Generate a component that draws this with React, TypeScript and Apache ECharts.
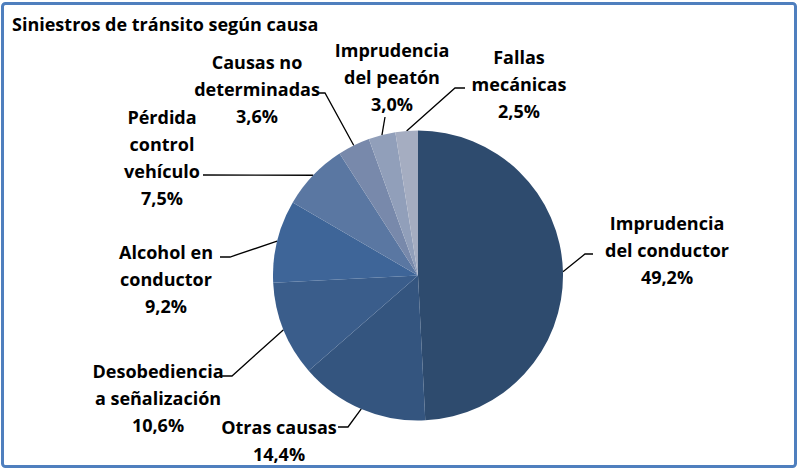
import React, { useEffect, useRef } from "react";
import * as echarts from "echarts";

const TITLE = "Siniestros de tránsito según causa";
const categories = [
  "Imprudencia\ndel conductor",
  "Otras causas",
  "Desobediencia\na señalización",
  "Alcohol en\nconductor",
  "Pérdida\ncontrol\nvehículo",
  "Causas no\ndeterminadas",
  "Imprudencia\ndel peatón",
  "Fallas\nmecánicas",
];
const values = [49.2, 14.4, 10.6, 9.2, 7.5, 3.6, 3.0, 2.5];
const colors = ["#2e4b6e", "#34557f", "#3a5d8b", "#3e6598", "#5a77a2", "#7889ab", "#919fba", "#a5adc1"];

// label layout (positions only)
const labelAnchor: number[][] = [
  [667, 249.5], [279, 440.5], [158, 398], [166, 279], [162, 157.5], [257, 89], [392, 76.5], [519, 84],
];
const labelLineRest: number[][][] = [
  [[585, 254], [593, 254]],
  [[348, 427], [338, 427]],
  [[232, 376], [222, 376]],
  [[230, 257], [220, 257]],
  [[203, 175]],
  [[325, 93], [318, 93]],
  [[385, 117]],
  [[455, 88], [465, 88]],
];
const CENTER = [418, 275.5];
const RADIUS = 145;
const FONT = "'Open Sans', Lato, sans-serif";

export default function App() {
  const ref = useRef<HTMLDivElement>(null);
  useEffect(() => {
    if (!ref.current) return;
    const chart = echarts.init(ref.current, undefined, { renderer: "svg" });
    const total = values.reduce((a, b) => a + b, 0);
    const edgePoint = (idx: number) => {
      let before = 0;
      for (let i = 0; i < idx; i++) before += values[i];
      const frac = (before + values[idx] / 2) / total;
      const ang = frac * Math.PI * 2;
      return [CENTER[0] + RADIUS * Math.sin(ang), CENTER[1] - RADIUS * Math.cos(ang)];
    };
    chart.setOption({
      animation: false,
      backgroundColor: "#ffffff",
      title: {
        text: TITLE,
        left: 7,
        top: 10,
        textStyle: { fontFamily: FONT, fontWeight: "bold", fontSize: 18, color: "#000" },
      },
      graphic: [
        {
          type: "rect",
          shape: { x: 2.5, y: 3.5, width: 793, height: 463, r: 3 },
          style: { fill: "none", stroke: "#4f7fbe", lineWidth: 3 },
          silent: true,
        },
      ],
      series: [
        {
          type: "pie",
          center: CENTER,
          radius: RADIUS,
          startAngle: 90,
          clockwise: true,
          data: categories.map((c, i) => ({ name: c, value: values[i], itemStyle: { color: colors[i] } })),
          itemStyle: { borderWidth: 0 },
          label: {
            show: true,
            position: "outside",
            formatter: (p: any) => p.name + "\n" + values[p.dataIndex].toFixed(1).replace(".", ",") + "%",
            fontFamily: FONT,
            fontWeight: "bold",
            fontSize: 18,
            lineHeight: 27,
            color: "#000",
            align: "center",
          },
          labelLine: { show: true, lineStyle: { color: "#000", width: 1.3 } },
          labelLayout: (params: any) => {
            const i = params.dataIndex;
            const start = edgePoint(i);
            return {
              x: labelAnchor[i][0],
              y: labelAnchor[i][1],
              align: "center",
              verticalAlign: "middle",
              labelLinePoints: [start, ...labelLineRest[i]],
            };
          },
          emphasis: { disabled: true },
        },
      ],
    });
    return () => chart.dispose();
  }, []);
  return (
    <div
      ref={ref}
      style={{ position: "fixed", left: 0, top: 0, width: 798, height: 469, background: "#fff" }}
    />
  );
}
